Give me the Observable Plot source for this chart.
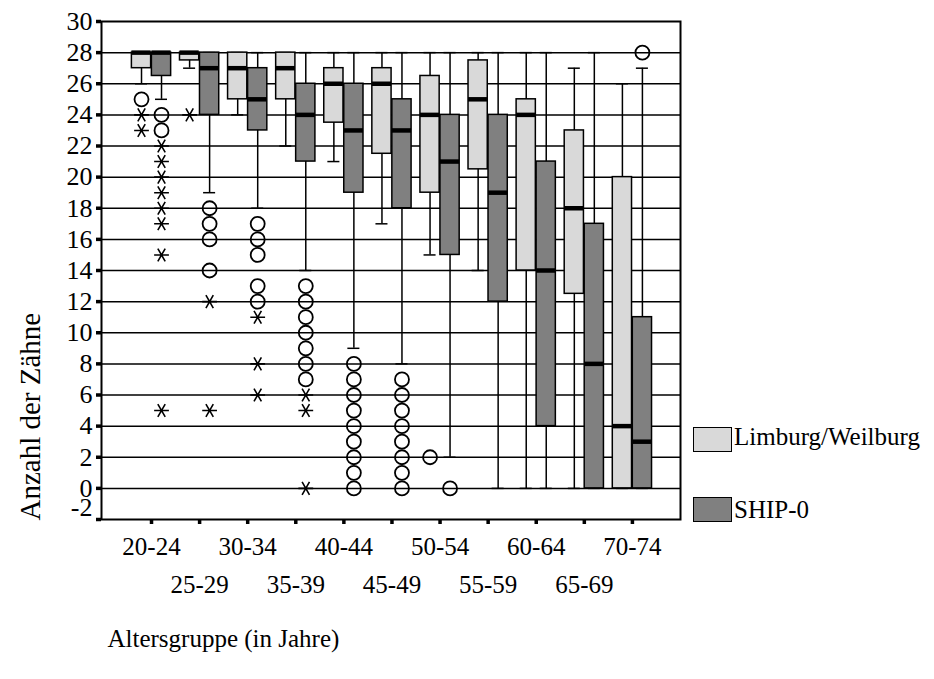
<!DOCTYPE html>
<html>
<head>
<meta charset="utf-8">
<script src="https://cdn.jsdelivr.net/npm/d3@7"></script>
<script src="https://cdn.jsdelivr.net/npm/@observablehq/plot@0.6"></script>
<style>
  body { margin: 0; background: #fff; }
  #wrap { position: relative; width: 934px; height: 679px; font-family: "Liberation Serif", "Times New Roman", "DejaVu Serif", serif; }
  #wrap svg text { font-family: "Liberation Serif", "Times New Roman", "DejaVu Serif", serif !important; }
  .sw { position: absolute; width: 37px; height: 23px; border: 1.5px solid #000; }
  .lt { position: absolute; font-size: 25px; line-height: 25px; color: #000; white-space: nowrap; font-family: "Liberation Serif", "Times New Roman", serif; }
</style>
</head>
<body>
<div id="wrap"></div>
<script>
// Age groups (x categories)
const groups = ["20-24","25-29","30-34","35-39","40-44","45-49","50-54","55-59","60-64","65-69","70-74"];
const seriesNames = ["Limburg/Weilburg", "SHIP-0"];

// Limburg/Weilburg box statistics
const limLow  = [26, 27,   24, 22, 21,   17,   15,   14,   0,  0,    0];
const limQ1   = [27, 27.5, 25, 25, 23.5, 21.5, 19,   20.5, 14, 12.5, 0];
const limMed  = [28, 28,   27, 27, 26,   26,   24,   25,   24, 18,   4];
const limQ3   = [28, 28,   28, 28, 27,   27,   26.5, 27.5, 25, 23,   20];
const limHigh = [28, 28,   28, 28, 28,   28,   28,   28,   28, 27,   26];

// SHIP-0 box statistics
const shipLow  = [25,   19, 18, 14, 9,  8,  2,  0,  0,  0,  0];
const shipQ1   = [26.5, 24, 23, 21, 19, 18, 15, 12, 4,  0,  0];
const shipMed  = [28,   27, 25, 24, 23, 23, 21, 19, 14, 8,  3];
const shipQ3   = [28,   28, 27, 26, 26, 25, 24, 24, 21, 17, 11];
const shipHigh = [28,   28, 28, 28, 28, 28, 28, 28, 28, 28, 27];

// Outliers (circles) and extreme values (asterisks): [group index, value]
const limOutliers = [[0, 25], [6, 2]];
const limExtremes = [[0, 24], [0, 23], [1, 24]];
const shipOutliers = [
  [0, 24], [0, 23],
  [1, 18], [1, 17], [1, 16], [1, 14],
  [2, 17], [2, 16], [2, 15], [2, 13], [2, 12],
  [3, 13], [3, 12], [3, 11], [3, 10], [3, 9], [3, 8], [3, 7],
  [4, 8], [4, 7], [4, 6], [4, 5], [4, 4], [4, 3], [4, 2], [4, 1], [4, 0],
  [5, 7], [5, 6], [5, 5], [5, 4], [5, 3], [5, 2], [5, 1], [5, 0],
  [6, 0],
  [10, 28]
];
const shipExtremes = [
  [0, 22], [0, 21], [0, 20], [0, 19], [0, 18], [0, 17], [0, 15], [0, 5],
  [1, 12], [1, 5],
  [2, 11], [2, 8], [2, 6],
  [3, 6], [3, 5], [3, 0]
];

const yTicks = d3.range(-2, 31, 2);
const gridValues = d3.range(0, 29, 2);

const colors = {"Limburg/Weilburg": "#d9d9d9", "SHIP-0": "#808080"};
const OFF = 0.208, HW = 0.2, CAP = 0.125;

const boxes = [];
groups.forEach((g, i) => {
  boxes.push({s: seriesNames[0], c: i - OFF, lo: limLow[i], q1: limQ1[i], med: limMed[i], q3: limQ3[i], hi: limHigh[i]});
  boxes.push({s: seriesNames[1], c: i + OFF, lo: shipLow[i], q1: shipQ1[i], med: shipMed[i], q3: shipQ3[i], hi: shipHigh[i]});
});
const outliers = [
  ...limOutliers.map(([i, v]) => ({c: i - OFF, v})),
  ...shipOutliers.map(([i, v]) => ({c: i + OFF, v}))
];
const extremes = [
  ...limExtremes.map(([i, v]) => ({c: i - OFF, v})),
  ...shipExtremes.map(([i, v]) => ({c: i + OFF, v}))
];

const font = "Liberation Serif, Times New Roman, DejaVu Serif, serif";

const chart = Plot.plot({
  width: 934,
  height: 679,
  marginLeft: 101,
  marginRight: 254,
  marginTop: 21,
  marginBottom: 160,
  style: {fontFamily: font, background: "white", color: "black"},
  x: {domain: [-1.04, 11], label: null, axis: null},
  y: {domain: [-2, 30], label: null, axis: null},
  marks: [
    Plot.ruleY(gridValues, {stroke: "black", strokeWidth: 1.5}),
    Plot.ruleX(boxes, {x: "c", y1: "lo", y2: "hi", stroke: "black", strokeWidth: 1.5}),
    Plot.ruleY(boxes, {y: "lo", x1: d => d.c - CAP, x2: d => d.c + CAP, stroke: "black", strokeWidth: 1.5}),
    Plot.ruleY(boxes, {y: "hi", x1: d => d.c - CAP, x2: d => d.c + CAP, stroke: "black", strokeWidth: 1.5}),
    Plot.rect(boxes, {x1: d => d.c - HW, x2: d => d.c + HW, y1: "q1", y2: "q3", fill: d => colors[d.s], stroke: "black", strokeWidth: 1.5}),
    Plot.ruleY(boxes, {y: "med", x1: d => d.c - HW, x2: d => d.c + HW, stroke: "black", strokeWidth: 4.5}),
    Plot.dot(outliers, {x: "c", y: "v", symbol: "circle", r: 7, stroke: "black", strokeWidth: 1.8, fill: "none"}),
    Plot.dot(extremes, {x: "c", y: "v", symbol: "asterisk", r: 7, rotate: 90, stroke: "black", strokeWidth: 1.6}),
    Plot.frame({stroke: "black", strokeWidth: 2}),
    Plot.axisY({ticks: yTicks, tickSize: 5, tickPadding: 4, strokeWidth: 3.5, fontSize: 26, fontFamily: font,
                tickFormat: d => d === -2 ? "" : String(d)}),
    Plot.text([-2], {x: -1.04, y: d => d, text: d => String(d), dx: -9, dy: -12, textAnchor: "end", fontSize: 26, fontFamily: font}),
    Plot.axisX({ticks: d3.range(groups.length), tickSize: 5, strokeWidth: 3.5, tickFormat: () => ""}),
    Plot.axisX({ticks: d3.range(0, groups.length, 2), tickSize: 0, tickPadding: 18, fontSize: 25, fontFamily: font, tickFormat: i => groups[i]}),
    Plot.axisX({ticks: d3.range(1, groups.length, 2), tickSize: 0, tickPadding: 56, fontSize: 25, fontFamily: font, tickFormat: i => groups[i]}),
    Plot.text(["Anzahl der Zähne"], {frameAnchor: "left", rotate: -90, dx: -71, dy: 250, fontSize: 29, fontFamily: font, lineAnchor: "middle"}),
    Plot.text(["Altersgruppe (in Jahre)"], {frameAnchor: "bottom-left", textAnchor: "start", dx: 6, dy: 119, fontSize: 25, fontFamily: font, lineAnchor: "middle"})
  ]
});

const wrap = document.getElementById("wrap");
wrap.appendChild(chart);

const legendItems = [
  {name: seriesNames[0], top: 427, textTop: 424},
  {name: seriesNames[1], top: 497, textTop: 497}
];
legendItems.forEach(it => {
  const sw = document.createElement("div");
  sw.className = "sw";
  sw.style.left = "693px";
  sw.style.top = it.top + "px";
  sw.style.background = colors[it.name];
  wrap.appendChild(sw);
  const t = document.createElement("div");
  t.className = "lt";
  t.style.left = "734px";
  t.style.top = it.textTop + "px";
  t.textContent = it.name;
  wrap.appendChild(t);
});
</script>
</body>
</html>
